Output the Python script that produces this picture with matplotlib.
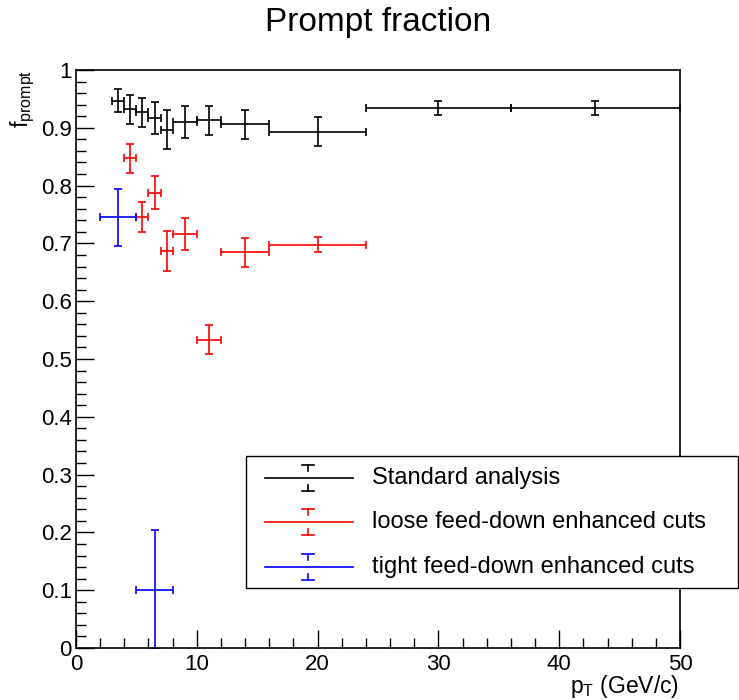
import matplotlib
matplotlib.use("Agg")
import matplotlib.pyplot as plt
import numpy as np
from matplotlib.patches import Rectangle
from matplotlib.lines import Line2D

plt.rcParams['font.family'] = ['Liberation Sans', 'DejaVu Sans']
plt.rcParams['mathtext.fontset'] = 'custom'
plt.rcParams['mathtext.rm'] = 'Liberation Sans'
plt.rcParams['mathtext.it'] = 'Liberation Sans:italic'

# ---- data ----
std_edges = [3, 4, 5, 6, 7, 8, 10, 12, 16, 24, 36, 50]
std_y = [0.947, 0.932, 0.927, 0.917, 0.897, 0.910, 0.913, 0.906, 0.893, 0.935, 0.934]
std_err = [0.020, 0.025, 0.025, 0.028, 0.034, 0.028, 0.025, 0.025, 0.025, 0.012, 0.012]

loose_edges = [4, 5, 6, 7, 8, 10, 12, 16, 24]
loose_y = [0.847, 0.746, 0.788, 0.687, 0.716, 0.533, 0.685, 0.698]
loose_err = [0.025, 0.026, 0.028, 0.034, 0.028, 0.025, 0.025, 0.013]

tight_lo = [2, 5]
tight_hi = [5, 8]
tight_y = [0.745, 0.101]
tight_err = [0.049, 0.103]

labels = ["Standard analysis", "loose feed-down enhanced cuts", "tight feed-down enhanced cuts"]
colors = ["black", "#ff0000", "#0000ff"]

W, H = 739, 700
fig = plt.figure(figsize=(W / 100, H / 100), dpi=100)
L, R, T, B = 76, 680, 70, 648
ax = fig.add_axes([L / W, 1 - B / H, (R - L) / W, (B - T) / H])

def draw(lo, hi, y, e, c):
    lo = np.asarray(lo, float); hi = np.asarray(hi, float)
    x = 0.5 * (lo + hi)
    ax.errorbar(x, y, yerr=e, xerr=[x - lo, hi - x], fmt='none', ecolor=c,
                elinewidth=1.2, capsize=2.6, capthick=1.2)

draw(std_edges[:-1], std_edges[1:], std_y, std_err, colors[0])
draw(loose_edges[:-1], loose_edges[1:], loose_y, loose_err, colors[1])
draw(tight_lo, tight_hi, tight_y, tight_err, colors[2])

ax.set_xlim(0, 50)
ax.set_ylim(0, 1)
ax.set_xticks(np.arange(0, 51, 10))
ax.set_xticks(np.arange(0, 51, 2), minor=True)
ax.set_yticks(np.arange(0, 1.01, 0.1))
ax.set_yticks(np.arange(0, 1.001, 0.02), minor=True)
ax.set_yticklabels(['0', '0.1', '0.2', '0.3', '0.4', '0.5', '0.6', '0.7', '0.8', '0.9', '1'])
ax.tick_params(which='both', direction='in', top=False, right=False, width=1.0, labelsize=16)
ax.tick_params(which='major', length=13)
ax.tick_params(which='minor', length=7)
ax.tick_params(axis='x', pad=4)
ax.tick_params(axis='y', pad=3)
for s in ax.spines.values():
    s.set_linewidth(1.2)

def fx(px):
    return px / W

def fy(py):
    return 1 - py / H

fig.text(fx(378), fy(22), "Prompt fraction", ha='center', va='center', fontsize=24)
fig.text(fx(679), fy(686), r'$\mathrm{p}_{\mathrm{T}}$ (GeV/c)', ha='right', va='center', fontsize=16.5)
fig.text(fx(23), fy(70), r'$\mathrm{f}_{\mathrm{prompt}}$', ha='center', va='top', rotation=90, fontsize=16.5)

# legend (manual, ROOT style)
lx0, lx1, ly0, ly1 = 246, 738, 456, 588
fig.patches.append(Rectangle((fx(lx0), fy(ly1)), fx(lx1) - fx(lx0), fy(ly0) - fy(ly1),
                             transform=fig.transFigure, facecolor='white', edgecolor='black',
                             linewidth=1.0, zorder=5))
rows = [478, 522, 567]
for lab, c, yy in zip(labels, colors, rows):
    fig.lines.append(Line2D([fx(265), fx(353)], [fy(yy), fy(yy)], transform=fig.transFigure,
                            color=c, lw=1.2, zorder=6))
    cx = 308
    fig.lines.append(Line2D([fx(cx - 6), fx(cx + 6)], [fy(yy - 13), fy(yy - 13)], transform=fig.transFigure, color=c, lw=1.2, zorder=6))
    fig.lines.append(Line2D([fx(cx), fx(cx)], [fy(yy - 13), fy(yy - 7)], transform=fig.transFigure, color=c, lw=1.2, zorder=6))
    fig.lines.append(Line2D([fx(cx - 6), fx(cx + 6)], [fy(yy + 13), fy(yy + 13)], transform=fig.transFigure, color=c, lw=1.2, zorder=6))
    fig.lines.append(Line2D([fx(cx), fx(cx)], [fy(yy + 13), fy(yy + 7)], transform=fig.transFigure, color=c, lw=1.2, zorder=6))
    fig.text(fx(372), fy(yy), lab, ha='left', va='center', fontsize=17, zorder=7)

fig.savefig("out.png", dpi=100)
